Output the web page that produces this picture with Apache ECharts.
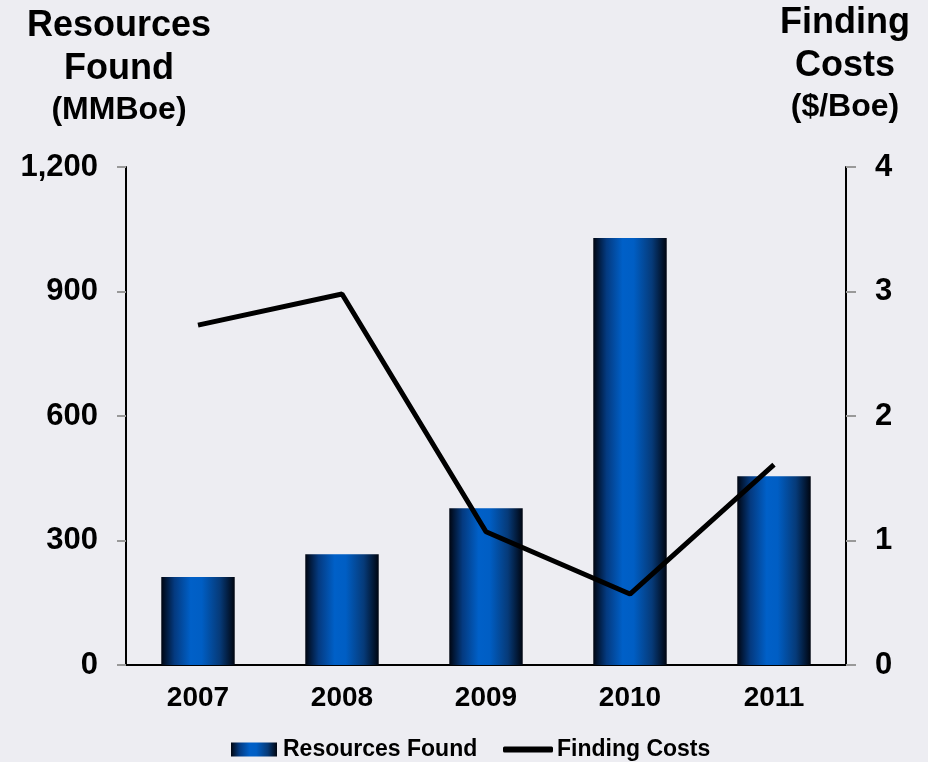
<!DOCTYPE html>
<html>
<head>
<meta charset="utf-8">
<script src="https://cdn.jsdelivr.net/npm/echarts@6/dist/echarts.min.js"></script>
<style>
html,body{margin:0;padding:0;background:#EDEDF2;}
#c{width:928px;height:762px;}
</style>
</head>
<body>
<div id="c"></div>
<script>
const years = ['2007','2008','2009','2010','2011'];
const resourcesFound = [212, 267, 378, 1029, 455];
const findingCosts = [2.73, 2.98, 1.07, 0.57, 1.61];
const leftTicks = [0, 300, 600, 900, 1200];
const rightTicks = [0, 1, 2, 3, 4];

const FONT = '"Liberation Sans", Arial, sans-serif';
const chart = echarts.init(document.getElementById('c'));
const barGrad = new echarts.graphic.LinearGradient(0, 0, 1, 0, [
  {offset: 0, color: '#000510'},
  {offset: 0.18, color: '#043a80'},
  {offset: 0.4, color: '#0060c8'},
  {offset: 0.55, color: '#005ec4'},
  {offset: 0.8, color: '#063a78'},
  {offset: 1, color: '#000510'}
]);
function t(text, x, y, size) {
  return {type: 'text', x: x, y: y,
    style: {text: text, font: 'bold ' + size + 'px ' + FONT, fill: '#000', align: 'center', verticalAlign: 'middle'}};
}
chart.setOption({
  backgroundColor: '#EDEDF2',
  animation: false,
  textStyle: {fontFamily: FONT},
  grid: {left: 126, right: 82, top: 167, bottom: 97},
  graphic: [
    t('Resources', 119, 26, 36),
    t('Found', 119, 69, 36),
    t('(MMBoe)', 119, 110, 32),
    t('Finding', 845, 23, 36),
    t('Costs', 845, 66, 36),
    t('($/Boe)', 845, 107, 32)
  ],
  legend: [
    {data: [{name: 'Resources Found', icon: 'rect'}], left: 231, top: 738, itemWidth: 46, itemHeight: 14, itemGap: 0, padding: 0,
      textStyle: {fontSize: 23, fontWeight: 'bold', color: '#000', fontFamily: FONT, padding: [0, 0, 0, 1]}},
    {data: [{name: 'Finding Costs', icon: 'roundRect'}], left: 503, top: 738, itemWidth: 50, itemHeight: 6, padding: 0,
      textStyle: {fontSize: 23, fontWeight: 'bold', color: '#000', fontFamily: FONT, padding: [0, 0, 0, -1]}}
  ],
  xAxis: {
    type: 'category', data: years,
    axisLine: {lineStyle: {color: '#000', width: 2}},
    axisTick: {show: false},
    axisLabel: {fontSize: 28, fontWeight: 'bold', color: '#000', margin: 19, fontFamily: FONT}
  },
  yAxis: [
    {type: 'value', min: 0, max: 1200, interval: 300, position: 'left',
      axisLine: {show: true, lineStyle: {color: '#000', width: 2}},
      axisTick: {show: true, length: 9, lineStyle: {color: '#999', width: 2}},
      splitLine: {show: false},
      axisLabel: {fontSize: 31, fontWeight: 'bold', color: '#000', margin: 28, fontFamily: FONT,
        formatter: v => v.toLocaleString('en-US')}},
    {type: 'value', min: 0, max: 4, interval: 1, position: 'right',
      axisLine: {show: true, lineStyle: {color: '#000', width: 2}},
      axisTick: {show: true, length: 10, lineStyle: {color: '#999', width: 2}},
      splitLine: {show: false},
      axisLabel: {fontSize: 31, fontWeight: 'bold', color: '#000', margin: 29, fontFamily: FONT}}
  ],
  series: [
    {name: 'Resources Found', type: 'bar', data: resourcesFound, barWidth: '51%', yAxisIndex: 0,
      itemStyle: {color: barGrad}},
    {name: 'Finding Costs', type: 'line', data: findingCosts, yAxisIndex: 1, symbol: 'none',
      lineStyle: {color: '#000', width: 5}, itemStyle: {color: '#000'}}
  ]
});
</script>
</body>
</html>
